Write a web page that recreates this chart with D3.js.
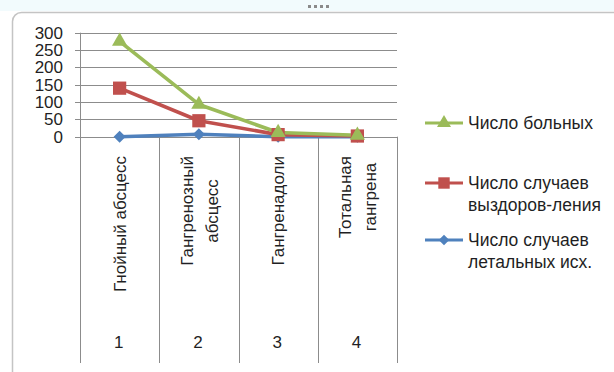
<!DOCTYPE html>
<html>
<head>
<meta charset="utf-8">
<script src="https://cdn.jsdelivr.net/npm/d3@7"></script>
<style>
  html, body { margin: 0; padding: 0; background: #fff; }
  svg { display: block; }
  text { font-family: "Liberation Sans", Arial, sans-serif; fill: #1f1f24; }
</style>
</head>
<body>
<script>
// Categories (index, label lines)
const categoryIds = [1, 2, 3, 4];
const categoryLabels = [
  ["Гнойный абсцесс"],
  ["Гангренозный", "абсцесс"],
  ["Гангренадоли"],
  ["Тотальная", "гангрена"]
];

// Series values
const patients   = [275, 93, 12, 4];   // Число больных
const recoveries = [140, 46, 6, 2];    // Число случаев выздоровления
const deaths     = [0, 7, 0, 0];       // Число случаев летальных исходов

const yTicks = [0, 50, 100, 150, 200, 250, 300];

const seriesNames = [
  ["Число больных"],
  ["Число случаев", "выздоров-ления"],
  ["Число случаев", "летальных исх."]
];

const W = 614, H = 372;
const svg = d3.select("body").append("svg").attr("width", W).attr("height", H);

// window chrome: light strip, handle dots, rounded chart frame
svg.append("rect").attr("x", 0).attr("y", 0).attr("width", W).attr("height", 11).attr("fill", "#f2fbfd");
svg.append("g").selectAll("rect").data(d3.range(4)).join("rect")
  .attr("x", i => 308 + i * 6).attr("y", 5).attr("width", 3).attr("height", 3).attr("fill", "#8a8a8a");
svg.append("rect").attr("x", 12.5).attr("y", 12.5).attr("width", W + 20).attr("height", H + 20)
  .attr("rx", 9).attr("fill", "#fff").attr("stroke", "#c4c4c4").attr("stroke-width", 1.5);

const fs = 17;
const x = d3.scaleBand().domain(categoryIds).range([80, 397]).padding(0);
const y = d3.scaleLinear().domain([0, 300]).range([136.7, 32.7]);
const cx = d => x(d) + x.bandwidth() / 2;

// square-shaped diamond marker
const squareDiamond = {
  draw(ctx, size) {
    const r = Math.sqrt(size / 2);
    ctx.moveTo(0, -r); ctx.lineTo(r, 0); ctx.lineTo(0, r); ctx.lineTo(-r, 0); ctx.closePath();
  }
};

// horizontal gridlines
svg.append("g").selectAll("line").data(yTicks).join("line")
  .attr("x1", 75).attr("x2", 397)
  .attr("y1", d => Math.round(y(d)) + 0.5).attr("y2", d => Math.round(y(d)) + 0.5)
  .attr("stroke", "#8c8c8c").attr("stroke-width", 1);

// value axis line
svg.append("line").attr("x1", 80.5).attr("x2", 80.5).attr("y1", y(300)).attr("y2", 363)
  .attr("stroke", "#8c8c8c");

// category separators extending through the label area
svg.append("g").selectAll("line").data(categoryIds).join("line")
  .attr("x1", d => Math.round(x(d) + x.bandwidth()) + 0.5)
  .attr("x2", d => Math.round(x(d) + x.bandwidth()) + 0.5)
  .attr("y1", y(0)).attr("y2", 363)
  .attr("stroke", "#8c8c8c");

// y tick labels
svg.append("g").selectAll("text").data(yTicks).join("text")
  .attr("x", 63).attr("y", d => y(d)).attr("dy", "0.36em")
  .attr("text-anchor", "end").attr("font-size", fs)
  .text(d => d);

// rotated category labels (top-aligned, lines centred on each other)
const lineGap = 25;
categoryIds.forEach((id, i) => {
  const lines = categoryLabels[i];
  const g = svg.append("g");
  const texts = lines.map(t => g.append("text").attr("font-size", fs).attr("text-anchor", "middle").text(t));
  const maxW = d3.max(texts, t => t.node().getComputedTextLength());
  const top = 156;
  const cy = top + maxW / 2;
  texts.forEach((t, k) => {
    const lx = cx(id) + (k - (lines.length - 1) / 2) * lineGap;
    t.attr("transform", `translate(${lx},${cy}) rotate(-90)`).attr("dy", "0.36em");
  });
});

// category numbers
svg.append("g").selectAll("text").data(categoryIds).join("text")
  .attr("x", d => cx(d) - 1).attr("y", 342).attr("dy", "0.36em")
  .attr("text-anchor", "middle").attr("font-size", fs)
  .text(d => d);

// series
const series = [
  { values: deaths, color: "#4f81bd", marker: squareDiamond, size: 72, lsize: 56, name: seriesNames[2] },
  { values: recoveries, color: "#c0504d", marker: d3.symbolSquare, size: 175, lsize: 130, name: seriesNames[1] },
  { values: patients, color: "#9bbb59", marker: d3.symbolTriangle, size: 100, lsize: 85, name: seriesNames[0] }
];

const line = d3.line().x((d, i) => cx(categoryIds[i])).y(d => y(d));

series.forEach(s => {
  svg.append("path").datum(s.values).attr("d", line)
    .attr("fill", "none").attr("stroke", s.color).attr("stroke-width", 3.6)
    .attr("stroke-linejoin", "round");
});
series.forEach(s => {
  svg.append("g").selectAll("path").data(s.values).join("path")
    .attr("transform", (d, i) => `translate(${cx(categoryIds[i])},${y(d)})`)
    .attr("d", d3.symbol().type(s.marker).size(s.size))
    .attr("fill", s.color);
});

// legend
const legendRows = [
  { s: series[2], y: 123 },
  { s: series[1], y: 183 },
  { s: series[0], y: 240 }
];
legendRows.forEach(r => {
  const g = svg.append("g");
  g.append("line").attr("x1", 425).attr("x2", 463).attr("y1", r.y).attr("y2", r.y)
    .attr("stroke", r.s.color).attr("stroke-width", 3.2);
  g.append("path").attr("transform", `translate(444,${r.y})`)
    .attr("d", d3.symbol().type(r.s.marker).size(r.s.lsize))
    .attr("fill", r.s.color);
  r.s.name.forEach((t, k) => {
    g.append("text").attr("x", 468).attr("y", r.y + k * 22).attr("dy", "0.36em")
      .attr("font-size", fs + 0.5).text(t);
  });
});
</script>
</body>
</html>
